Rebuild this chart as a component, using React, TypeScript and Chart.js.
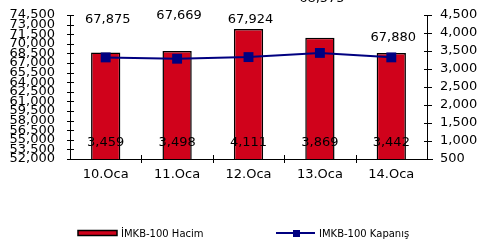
import React, { useEffect, useRef } from "react";
import { Chart, registerables } from "chart.js";

Chart.register(...registerables);

const categories = ["10.Oca", "11.Oca", "12.Oca", "13.Oca", "14.Oca"];
const volume = [3459, 3498, 4111, 3869, 3442]; // İMKB-100 Hacim (right axis)
const closing = [67875, 67669, 67924, 68575, 67880]; // IMKB-100 Kapanış (left axis)
const volumeLabel = "İMKB-100 Hacim";
const closingLabel = "IMKB-100 Kapanış";

const FONT = "'DejaVu Sans', sans-serif";
const RED = "#D0021B";
const NAVY = "#000080";
// label y (px from chart area top) for the closing value labels
const closingLabelDy = [5, 1, 5, -16, 23];

const fmt = (v: number) => v.toLocaleString("en-US");

const overlay = {
  id: "overlay",
  afterDraw(chart: any) {
    const ctx = chart.ctx;
    const { top, bottom, left, right } = chart.chartArea;
    const x = chart.scales.x;
    const yL = chart.scales.yL;
    const yR = chart.scales.yR;
    ctx.save();
    ctx.strokeStyle = "#000";
    ctx.lineWidth = 1;
    // crossing tick marks
    ctx.beginPath();
    yL.ticks.forEach((t: any) => {
      const y = Math.round(yL.getPixelForValue(t.value)) + 0.5;
      ctx.moveTo(left - 3, y);
      ctx.lineTo(left + 4, y);
    });
    yR.ticks.forEach((t: any) => {
      const y = Math.round(yR.getPixelForValue(t.value)) + 0.5;
      ctx.moveTo(right - 3, y);
      ctx.lineTo(right + 5, y);
    });
    for (let i = 1; i < categories.length; i++) {
      const xx = Math.round((x.getPixelForValue(i - 1) + x.getPixelForValue(i)) / 2) + 0.5;
      ctx.moveTo(xx, bottom - 4);
      ctx.lineTo(xx, bottom + 4);
    }
    ctx.moveTo(right, bottom + 0.5);
    ctx.lineTo(right + 6, bottom + 0.5);
    ctx.stroke();

    // value labels
    ctx.fillStyle = "#000";
    ctx.font = `13px ${FONT}`;
    ctx.textAlign = "center";
    ctx.textBaseline = "middle";
    closing.forEach((v, i) => {
      ctx.fillText(fmt(v), x.getPixelForValue(i) + 2, top + closingLabelDy[i]);
    });
    volume.forEach((v, i) => {
      ctx.fillText(fmt(v), x.getPixelForValue(i), bottom - 16);
    });

    // legend
    const ly = 233;
    ctx.font = `10px ${FONT}`;
    ctx.textAlign = "left";
    ctx.fillStyle = RED;
    ctx.fillRect(78, ly - 2.5, 39, 5);
    ctx.lineWidth = 1.5;
    ctx.strokeStyle = "#000";
    ctx.strokeRect(78, ly - 2.5, 39, 5);
    ctx.fillStyle = "#000";
    ctx.fillText(volumeLabel, 121, ly + 1);

    ctx.strokeStyle = NAVY;
    ctx.lineWidth = 2;
    ctx.beginPath();
    ctx.moveTo(276, ly);
    ctx.lineTo(315, ly);
    ctx.stroke();
    ctx.fillStyle = NAVY;
    ctx.fillRect(293, ly - 3, 7, 7);
    ctx.fillStyle = "#000";
    ctx.fillText(closingLabel, 319, ly + 1);
    ctx.restore();
  },
};

export default function App() {
  const ref = useRef<HTMLCanvasElement>(null);
  useEffect(() => {
    document.body.style.margin = "0";
    const chart = new Chart(ref.current!, {
      type: "bar",
      data: {
        labels: categories,
        datasets: [
          {
            type: "line",
            label: closingLabel,
            data: closing,
            yAxisID: "yL",
            borderColor: NAVY,
            backgroundColor: NAVY,
            borderWidth: 2,
            pointStyle: "rect",
            pointRadius: 7,
            pointBorderWidth: 0,
            order: 0,
          } as any,
          {
            type: "bar",
            label: volumeLabel,
            data: volume,
            yAxisID: "yR",
            backgroundColor: RED,
            borderColor: "#000",
            borderWidth: 1.5,
            barPercentage: 0.41,
            categoryPercentage: 1,
            order: 1,
          },
        ],
      },
      options: {
        animation: false,
        responsive: false,
        layout: { padding: { top: 15, left: 0, right: 0, bottom: 0 } },
        plugins: { legend: { display: false }, tooltip: { enabled: false } },
        scales: {
          x: {
            offset: true,
            grid: { display: true, drawOnChartArea: false, drawTicks: false, color: "#000" },
            border: { color: "#000", width: 1 },
            ticks: { color: "#000", font: { family: FONT, size: 13 }, padding: 8 },
            afterFit: (s: any) => { s.height = 86; },
          },
          yL: {
            position: "left",
            min: 52000,
            max: 74500,
            grid: { drawOnChartArea: false, drawTicks: true, tickLength: 15, tickColor: "rgba(0,0,0,0)" },
            border: { color: "#000", width: 1 },
            ticks: {
              stepSize: 1500,
              autoSkip: false,
              color: "#000",
              font: { family: FONT, size: 13 },
              padding: 0,
              callback: (v: any) => fmt(Number(v)),
            },
            afterFit: (s: any) => { s.width = 70; },
          },
          yR: {
            position: "right",
            min: 500,
            max: 4500,
            grid: { drawOnChartArea: false, drawTicks: true, tickLength: 13, tickColor: "rgba(0,0,0,0)" },
            border: { color: "#000", width: 1 },
            ticks: {
              stepSize: 500,
              autoSkip: false,
              color: "#000",
              font: { family: FONT, size: 13 },
              padding: 0,
              callback: (v: any) => fmt(Number(v)),
            },
            afterFit: (s: any) => { s.width = 55; },
          },
        },
      },
      plugins: [overlay],
    });
    return () => chart.destroy();
  }, []);
  return (
    <div style={{ width: 482, height: 245 }}>
      <canvas ref={ref} width={482} height={245} style={{ display: "block" }} />
    </div>
  );
}
